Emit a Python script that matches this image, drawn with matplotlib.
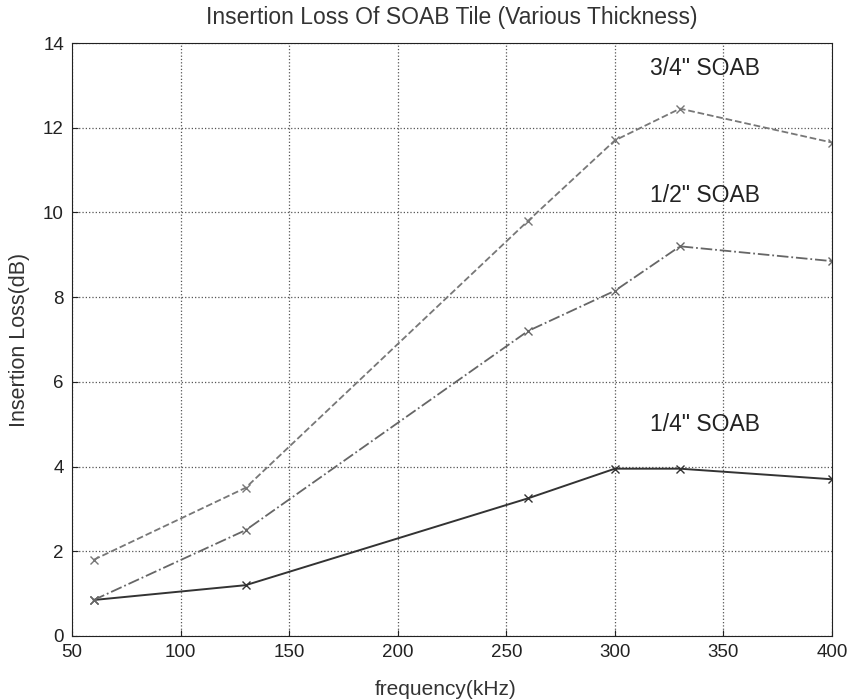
import matplotlib
matplotlib.use("Agg")
import matplotlib.pyplot as plt

plt.rcParams['font.family'] = ['Liberation Sans', 'DejaVu Sans']

freq = [60, 130, 260, 300, 330, 400]
quarter = [0.85, 1.2, 3.25, 3.95, 3.95, 3.7]
half = [0.85, 2.5, 7.2, 8.15, 9.2, 8.85]
three_quarter = [1.8, 3.5, 9.8, 11.7, 12.45, 11.65]

labels = ['1/4" SOAB', '1/2" SOAB', '3/4" SOAB']
label_pos = [(316, 5.0), (316, 10.4), (316, 13.4)]

fig = plt.figure(figsize=(8.55, 7), dpi=100)
# axes frame measured in pixels: left 72, right 832, top 43, bottom 636
ax = fig.add_axes([72 / 855, 64 / 700, 760 / 855, 593 / 700])

ax.plot(freq, quarter, '-', color='#333333', lw=1.4, marker='x', ms=6, mew=1)
ax.plot(freq, half, '-.', color='#666666', lw=1.3, marker='x', ms=6, mew=1)
ax.plot(freq, three_quarter, '--', color='#777777', lw=1.3, marker='x', ms=6, mew=1)

for lab, (x, y) in zip(labels, label_pos):
    ax.text(x, y, lab, ha='left', va='center', fontsize=16.5, color='#222222')

ax.set_xlim(50, 400)
ax.set_ylim(0, 14)
ax.set_xticks(range(50, 401, 50))
ax.set_yticks(range(0, 15, 2))
ax.grid(True, linestyle=':', color='#555555', lw=0.9)
ax.tick_params(labelsize=13.5, direction='in', length=4, colors='#222222')
ax.tick_params(axis='x', pad=5.8)
ax.tick_params(axis='y', pad=5.8)
for s in ax.spines.values():
    s.set_color('#222222')

ax.set_xlabel('frequency(kHz)', fontsize=15, color='#333333')
ax.set_ylabel('Insertion Loss(dB)', fontsize=15.5, color='#333333')
ax.xaxis.set_label_coords(0.492, -0.074)
ax.yaxis.set_label_coords(-0.055, 0.5)
ax.set_title('Insertion Loss Of SOAB Tile (Various Thickness)', fontsize=16.5, color='#333333', pad=13.7)

fig.savefig('out.png', dpi=100, facecolor='white')
